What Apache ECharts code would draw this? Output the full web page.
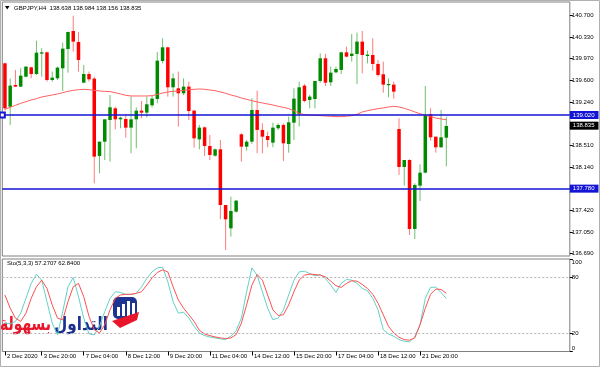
<!DOCTYPE html>
<html><head><meta charset="utf-8">
<script src="https://cdn.jsdelivr.net/npm/echarts@6/dist/echarts.min.js"></script>
<style>html,body{margin:0;padding:0;background:#fff}#c{width:600px;height:367px}</style>
</head><body><div id="c"></div>
<script>
const symbolName = 'GBPJPY,H4';
const openP = [139.890,139.160,139.525,139.497,139.665,139.822,139.710,140.053,140.075,139.609,
139.637,139.806,140.131,140.434,140.249,139.564,139.710,139.632,138.330,138.571,
138.936,139.132,138.947,138.953,138.807,138.947,139.093,139.059,139.183,139.289,
139.929,140.159,139.486,139.469,139.385,139.497,139.093,138.610,138.812,138.498,
138.335,138.442,137.505,137.112,137.393,138.695,138.487,138.571,139.104,138.768,
138.666,138.554,138.796,138.852,138.532,138.891,139.031,139.514,139.273,139.289,
139.592,139.974,139.570,139.738,139.778,140.075,140.013,140.047,140.255,140.013,
140.030,139.879,139.705,139.525,139.531,138.784,138.145,138.262,137.101,137.830,
138.049,139.031,138.655,138.476,138.638];
const highP = [139.901,139.637,139.778,139.806,139.845,139.834,140.271,140.142,140.086,139.750,
139.834,140.238,140.423,140.692,140.417,139.862,139.750,139.665,138.571,138.947,
139.357,139.160,138.992,139.031,139.329,139.149,139.256,139.329,139.340,140.081,
140.311,140.170,139.721,139.750,139.637,139.581,139.104,138.852,138.824,138.683,
138.453,138.599,137.505,137.645,137.589,138.711,138.599,139.301,139.430,138.880,
138.739,138.891,138.880,138.880,138.992,139.469,139.581,139.542,139.357,139.592,
140.058,140.047,139.834,139.834,140.086,140.170,140.384,140.406,140.434,140.103,
140.311,139.946,139.918,139.637,139.581,138.964,138.262,138.274,137.870,138.189,
139.508,139.132,138.655,139.104,138.984];
const lowP = [139.093,138.852,139.491,139.491,139.654,139.637,139.693,139.665,139.581,139.581,
139.609,139.424,139.733,140.086,139.750,139.553,139.581,137.870,138.038,138.262,
138.234,138.779,138.796,138.638,138.375,138.459,138.964,138.981,139.149,139.216,
139.890,139.329,139.329,138.824,139.357,138.936,138.470,138.442,138.330,138.262,
138.319,137.264,136.747,136.972,137.376,138.234,138.420,138.532,138.375,138.375,
138.476,138.476,138.767,138.246,138.386,138.599,138.824,139.233,139.132,139.132,
139.564,139.508,139.508,139.721,139.710,139.991,139.918,139.542,139.721,139.890,
139.766,139.665,139.396,139.317,139.295,138.010,137.830,137.000,136.932,137.572,
138.038,138.588,138.386,138.470,138.156];
const closeP = [139.132,139.514,139.497,139.682,139.834,139.710,140.069,140.075,139.609,139.649,
139.817,140.137,140.417,140.255,139.946,139.710,139.620,138.319,138.571,138.947,
139.149,138.947,138.975,138.807,138.947,139.093,139.059,139.200,139.295,139.935,
140.159,139.486,139.637,139.385,139.497,139.087,138.627,138.807,138.498,138.347,
138.442,137.505,137.264,137.404,137.578,138.487,138.571,139.104,138.768,138.655,
138.599,138.807,138.852,138.543,138.897,139.295,139.486,139.256,139.329,139.592,
139.974,139.564,139.733,139.794,140.075,140.002,140.053,140.255,140.030,140.036,
139.879,139.693,139.531,139.542,139.413,138.145,138.262,137.101,137.842,138.049,
139.009,138.644,138.476,138.644,138.835];
const maValues = [139.115,139.149,139.183,139.216,139.244,139.273,139.295,139.323,139.340,139.357,
139.374,139.396,139.418,139.435,139.446,139.452,139.446,139.435,139.424,139.418,
139.413,139.396,139.374,139.351,139.340,139.340,139.340,139.340,139.345,139.368,
139.390,139.407,139.418,139.424,139.435,139.446,139.452,139.458,139.452,139.441,
139.430,139.407,139.385,139.357,139.334,139.306,139.284,139.261,139.239,139.222,
139.205,139.188,139.166,139.149,139.127,139.093,139.048,139.026,139.014,139.014,
139.009,139.003,138.998,138.992,138.992,138.998,139.009,139.031,139.071,139.093,
139.110,139.127,139.138,139.155,139.166,139.155,139.132,139.104,139.071,139.042,
139.014,138.992,138.969,138.953,138.941];
const stochMain = [30.7,30,32.5,41.4,57.5,73.6,83.6,77.1,53.9,30.7,
18,43.2,70,80,59.3,36.1,19,18,27.2,43.2,
57.5,64.6,63.9,61.8,61.8,62.9,70,78.9,86.1,90.4,
91.1,75.4,53.9,41.4,42.5,36.1,27.2,20,17.2,15.7,
14.7,13.6,12.9,16.5,22.5,36.1,64.6,90.4,82.5,64.6,
46.8,34.3,36.1,45,61.1,77.1,86.1,86.8,84.3,81.8,
83.2,78.9,71.8,63.9,73.6,77.9,77.1,73.6,68.2,65.7,
57.5,45,23.6,18.9,16.5,12.9,11.1,10.4,15.7,28.9,
57.5,69.3,69.6,63.9,57.2707];
const stochSignal = [61.1,46.8,36.1,32.5,41.4,57.5,70,77.1,68.2,50.4,
36.1,34.3,53.9,70,73.6,59.3,37.9,23.6,20,28.9,
45,57.5,61.1,61.8,61.8,62.9,64.6,71.8,79.6,85.4,
88.2,86.1,70,55.7,46.8,39.7,32.5,23,18.9,17.2,
15.7,14.7,14,14.7,18.2,30.7,50.4,71.8,83.2,77.1,
61.1,45,38.9,39.7,50.4,64.6,77.1,82.5,83.6,83.2,
82.5,80.7,76.1,71.1,69.3,73.6,76.4,76.1,72.5,68.2,
61.8,52.2,39.7,27.2,20,15.4,12.9,12.2,14.7,28.9,
46.8,61.8,67.5,67.1,62.8400];
const priceTicks = [140.700,140.330,139.970,139.600,139.240,138.510,138.140,137.780,137.420,137.050,136.690];
const stochTicks = [0,20,80,100];
const stochLevels = [80,20];
const levelLines = [139.020,137.780];
const bidPrice = 138.835;
const timeTickIndex = [0,7,15,23,31,39,47,55,63,71,79];
const timeTickText = ['2 Dec 2020','3 Dec 20:00','7 Dec 04:00','8 Dec 12:00','9 Dec 20:00','11 Dec 04:00','14 Dec 12:00','15 Dec 20:00','17 Dec 04:00','18 Dec 12:00','21 Dec 20:00'];
const stochName = 'Sto(5,3,3)';
const logoWords = ['بسهولة', 'التداول'];

const slotCount = 108;
const cats = Array.from({length: slotCount}, (_, i) => String(i));
const tickMap = {};
timeTickIndex.forEach((k, j) => tickMap[k] = timeTickText[j]);
const candleData = openP.map((o, i) => [i, o, closeP[i], lowP[i], highP[i]]);
const last = openP.length - 1;
const FONT = 'Liberation Sans';

const mctx = document.createElement('canvas').getContext('2d');
function fitScale(text, font, target) {
  mctx.font = font;
  const w = mctx.measureText(text).width;
  return w > 0 ? target / w : 1;
}
const logoFont = 'bold 19px "DejaVu Sans"';
const redScale = fitScale(logoWords[0], logoFont, 51);
const blueScale = fitScale(logoWords[1], logoFont, 54);

function renderCandle(params, api) {
  const i = api.value(0), o = api.value(1), c = api.value(2), l = api.value(3), h = api.value(4);
  const pO = api.coord([i, o]), pC = api.coord([i, c]), pH = api.coord([i, h]), pL = api.coord([i, l]);
  const cx = pO[0];
  const up = c >= o;
  const top = Math.min(pO[1], pC[1]);
  let bh = Math.abs(pO[1] - pC[1]); if (bh < 1.2) bh = 1.2;
  const bw = 3.5;
  return {type: 'group', children: [
    {type: 'line', shape: {x1: cx, y1: pH[1], x2: cx, y2: pL[1]}, style: {stroke: up ? '#6fbf6f' : '#ff7a7a', lineWidth: 1}},
    {type: 'rect', shape: {x: cx - bw / 2, y: top, width: bw, height: bh}, style: {fill: up ? '#008a00' : '#ff0000'}}
  ]};
}

const chart = echarts.init(document.getElementById('c'), null, {renderer: 'canvas'});
const gridW = 567.5;
chart.setOption({
  animation: false,
  backgroundColor: '#ffffff',
  grid: [
    {left: 2.3, top: 2, width: gridW, height: 254, show: true, borderColor: '#808080', borderWidth: 1, backgroundColor: '#fff'},
    {left: 2.3, top: 259, width: gridW, height: 92.5, show: true, borderColor: '#808080', borderWidth: 1, backgroundColor: '#fff'}
  ],
  xAxis: [
    {type: 'category', gridIndex: 0, data: cats, boundaryGap: true, axisLine: {show: false}, axisTick: {show: false}, axisLabel: {show: false}, splitLine: {show: false}},
    {type: 'category', gridIndex: 1, data: cats, boundaryGap: true,
      axisLine: {show: false},
      axisTick: {show: true, alignWithLabel: true, length: 4, interval: (i) => tickMap[i] !== undefined, lineStyle: {color: '#000'}},
      axisLabel: {show: true, interval: (i) => tickMap[i] !== undefined, formatter: (v, i) => tickMap[i] || '', align: 'left', padding: [0, 0, 0, 2], margin: 2, fontSize: 6, fontFamily: FONT, color: '#000', hideOverlap: false},
      splitLine: {show: false}}
  ],
  yAxis: [
    {type: 'value', gridIndex: 0, position: 'right', min: 136.646, max: 140.922, scale: true,
      axisLine: {show: false},
      axisTick: {show: true, length: 3, customValues: priceTicks, lineStyle: {color: '#000'}},
      axisLabel: {show: true, customValues: priceTicks, formatter: (v) => v.toFixed(3), fontSize: 6, fontFamily: FONT, color: '#000', margin: 2, showMinLabel: true, showMaxLabel: true},
      splitLine: {show: false}},
    {type: 'value', gridIndex: 1, position: 'right', min: 0, max: 100,
      axisLine: {show: false},
      axisTick: {show: true, length: 3, customValues: stochTicks, lineStyle: {color: '#000'}},
      axisLabel: {show: true, customValues: stochTicks, fontSize: 6, fontFamily: FONT, color: '#000', margin: 2, verticalAlignMaxLabel: 'top', verticalAlignMinLabel: 'bottom'},
      splitLine: {show: false}}
  ],
  series: [
    {type: 'custom', xAxisIndex: 0, yAxisIndex: 0, renderItem: renderCandle, data: candleData, encode: {x: 0, y: [1, 2, 3, 4]}, clip: true, z: 3},
    {type: 'line', xAxisIndex: 0, yAxisIndex: 0, data: maValues, symbol: 'none', lineStyle: {color: '#ff6060', width: 1}, z: 4, silent: true,
      markLine: {silent: true, animation: false, symbol: ['emptyRect', 'none'], symbolSize: 5,
        data: [
          {yAxis: levelLines[0], lineStyle: {color: '#1414d4', width: 1.6, type: 'solid'},
            label: {show: true, position: 'end', distance: 0, formatter: levelLines[0].toFixed(3), backgroundColor: '#1414d4', color: '#fff', fontSize: 6, fontFamily: FONT, padding: [1, 4, 1, 3]}},
          {yAxis: levelLines[1], symbol: 'none', lineStyle: {color: '#1414d4', width: 1.6, type: 'solid'},
            label: {show: true, position: 'end', distance: 0, formatter: levelLines[1].toFixed(3), backgroundColor: '#1414d4', color: '#fff', fontSize: 6, fontFamily: FONT, padding: [1, 4, 1, 3]}},
          {yAxis: bidPrice, symbol: 'none', lineStyle: {color: 'rgba(0,0,0,0)', width: 0},
            label: {show: true, position: 'end', distance: 0, formatter: bidPrice.toFixed(3), backgroundColor: '#000', color: '#fff', fontSize: 6, fontFamily: FONT, padding: [1, 4, 1, 3]}}
        ]}},
    {type: 'line', xAxisIndex: 1, yAxisIndex: 1, data: stochMain, symbol: 'none', lineStyle: {color: '#62d2c8', width: 1}, z: 3,
      markLine: {silent: true, symbol: 'none', label: {show: false}, lineStyle: {color: '#b4b4b4', type: [2, 2], width: 1},
        data: stochLevels.map(v => ({yAxis: v}))}},
    {type: 'line', xAxisIndex: 1, yAxisIndex: 1, data: stochSignal, symbol: 'none', lineStyle: {color: '#ff5050', width: 1}, z: 4}
  ],
  graphic: [
    {type: 'rect', shape: {x: 0.5, y: 0.5, width: 599, height: 366}, style: {fill: 'none', stroke: '#b0b0b0', lineWidth: 1}, z: 0, silent: true},
    {type: 'polygon', shape: {points: [[5, 6], [9.5, 6], [7.25, 9.5]]}, style: {fill: '#000'}, z: 100},
    {type: 'text', x: 14, y: 8, style: {text: symbolName + '  ' + [openP[last], highP[last], lowP[last], closeP[last]].map(v => v.toFixed(3)).join(' '), font: '6px ' + FONT, fill: '#000', verticalAlign: 'middle'}, z: 100},
    {type: 'text', x: 7, y: 263.5, style: {text: stochName + ' ' + stochMain[last].toFixed(4) + ' ' + stochSignal[last].toFixed(4), font: '6px ' + FONT, fill: '#000', verticalAlign: 'middle'}, z: 100},
    {type: 'group', z: 100, children: [
      {type: 'text', x: 51, y: 316, scaleX: redScale, style: {text: logoWords[0], font: logoFont, fill: '#e8162a', align: 'right', verticalAlign: 'alphabetic'}},
      {type: 'text', x: 108, y: 316, scaleX: blueScale, style: {text: logoWords[1], font: logoFont, fill: '#1c2f8f', align: 'right', verticalAlign: 'alphabetic'}},
      {type: 'rect', shape: {x: 113, y: 297, width: 24, height: 22, r: 5}, style: {fill: '#1d3591'}},
      {type: 'rect', shape: {x: 117, y: 307, width: 3, height: 9}, style: {fill: '#fff'}},
      {type: 'rect', shape: {x: 122, y: 304, width: 3, height: 12}, style: {fill: '#fff'}},
      {type: 'rect', shape: {x: 127, y: 301, width: 3, height: 15}, style: {fill: '#fff'}},
      {type: 'rect', shape: {x: 132, y: 303, width: 3, height: 13}, style: {fill: '#fff'}},
      {type: 'polygon', shape: {points: [[112, 321], [139, 312], [137, 320], [120, 328]]}, style: {fill: '#e8162a'}}
    ]}
  ]
});
</script></body></html>
